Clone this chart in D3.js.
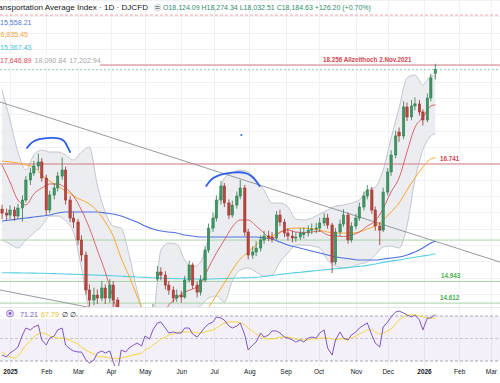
<!DOCTYPE html>
<html><head><meta charset="utf-8">
<script src="https://cdn.jsdelivr.net/npm/d3@7/dist/d3.min.js"></script>
<style>
html,body{margin:0;padding:0;background:#fff;}
svg{display:block;font-family:"Liberation Sans",Arial,sans-serif;}
</style></head><body>
<svg id="c" width="500" height="383"></svg>
<script>
// ---------------- DATA ----------------
// Bars: two per week (Thursday / Monday), Dec 26 2024 .. Jan 12 2026
const opens = [16050,15990,15960,16037,15945,16067,16190,16496,16603,16710, 16772,16527,16037,16266,16374,16557,16649,16190,15914,15853, 15578,15348,14812,14659,14735,14690,14843,14690,14888,14659, 13970,13587,13740,13893,13970,14046,14123,14276,14353,14980, 15088,15042,14888,14812,14690,14735,14705,14965,15195,14888, 14781,14965,15424,15761,15914,16190,16404,16144,15960,16113, 16251,16374,15700,15348,15394,15455,15578,15639,15623,15608, 15960,15853,15685,15639,15608,15623,15660,15685,15730,15746, 15761,15838,15914,15807,15240,15700,15822,15960,15578,15792, 15914,16083,16251,16343,16037,15792,15730,16312,16619,16879, 17230,17170,17614,17461,17629,17660,17537,17415,17751,18124.09];
const highs = [16120,16060,16110,16090,16130,16260,16560,16680,16790,16900, 16830,16580,16330,16450,16620,16840,16700,16250,16000,15900, 15650,15400,14900,14850,14820,14950,14900,14980,14950,14700, 14100,13900,14000,14080,14150,14220,14350,14450,14600,15180, 15160,15100,14950,14870,14820,14800,15030,15260,15230,14940, 15040,15480,15830,16000,16260,16480,16450,16200,16180,16320, 16500,16420,15750,15480,15560,15650,15720,15720,15700,16020, 16040,15900,15760,15720,15700,15760,15770,15800,15830,15840, 15920,15990,15980,15840,15760,15890,16050,16000,15850,15980, 16150,16320,16420,16390,16090,15850,16380,16680,16950,17250, 17300,17700,17680,17720,17760,17720,17580,17820,18120,18274.34];
const lows = [15900,15880,15900,15870,15900,15860,16150,16420,16560,16650, 16470,15960,15990,16200,16320,16500,16120,15850,15760,15500, 15250,14740,14560,14580,14600,14640,14600,14620,14500,13400, 13150,13450,13650,13800,13880,13950,14050,14200,14280,14950, 14960,14820,14740,14620,14630,14620,14680,14930,14830,14700, 14730,14930,15380,15700,15860,16120,16080,15900,15920,16060, 16200,15640,15280,15290,15330,15400,15520,15560,15540,15580, 15790,15620,15570,15540,15550,15580,15600,15630,15670,15680, 15700,15790,15750,15070,15200,15640,15780,15520,15540,15740, 15870,16030,16200,15980,15720,15500,15700,16260,16560,16830, 17080,17120,17400,17410,17560,17480,17330,17380,17700,18032.51];
const closes = [15990,15960,16037,15945,16067,16190,16496,16603,16710,16772, 16527,16037,16266,16374,16557,16649,16190,15914,15853,15578, 15348,14812,14659,14735,14690,14843,14690,14888,14659,13970, 13587,13740,13893,13970,14046,14123,14276,14353,14506,15088, 15042,14888,14812,14690,14735,14705,14965,15195,14888,14781, 14965,15424,15761,15914,16190,16404,16144,15960,16113,16251, 16374,15700,15348,15394,15455,15578,15639,15623,15608,15960, 15853,15685,15639,15608,15623,15685,15685,15730,15746,15761, 15838,15914,15807,15240,15700,15822,15960,15578,15792,15914, 16083,16251,16343,16037,15792,15730,16312,16619,16879,17170, 17170,17614,17461,17629,17660,17537,17415,17751,18058,18184.63];

// Weekly indicator readings (every Thursday bar + last bar)
const bbUpper = [17874,17415,16925,16649,16879,16955,16925,16925,16879,16802, 16925,17001,16419,16006,15792,15761,15348,14812,14429,14400, 15424,15532,15516,15271,15164,15241,15608,16037,16527,16603, 16649,16619,16496,16343,16144,16144,16083,15899,15884,15914, 15975,16037,16098,16113,16144,16190,16343,16389,16649,17139, 17598,18058,18104,17950,18088,18090.84];
const bbLower = [15578,15516,15455,15578,15685,15792,15945,15945,15868,15700, 15149,14521,14429,14169,13587,12791,12592,12822,13358,13750, 13281,13633,13863,14291,14490,14567,14690,14720,14628,14950, 15118,15149,15088,15026,15042,15241,15378,15501,15501,15486, 15455,15271,15180,15149,15164,15210,15241,15348,15470,15486, 15455,15792,16496,16955,17170,17202.94];
const bbBasis = [16726,16466,16190,16114,16282,16374,16435,16435,16374,16251, 16037,15761,15424,15088,14690,14276,13970,13817,13894,14075, 14353,14583,14690,14781,14827,14904,15149,15379,15578,15777, 15884,15884,15792,15685,15593,15693,15731,15700,15693,15700, 15715,15654,15639,15631,15654,15700,15792,15869,16060,16313, 16527,16925,17300,17453,17629,17646.89];
const maOrange = [16787,16772,16756,16726,16695,16572,16481,16404,16328,16251, 16190,16129,16021,15853,15639,15302,15026,14720,14429,14200, 14046,14000,14016,14077,14200,14353,14537,14735,14919,15118, 15287,15394,15501,15593,15639,15700,15746,15761,15761,15746, 15730,15700,15685,15685,15685,15700,15746,15792,15884,16006, 16144,16343,16527,16695,16818,16835.45];
const maBlue = [15868,15884,15899,15914,15929,15945,15960,15991,16006,16006, 16006,16006,16006,15991,15975,15945,15899,15853,15792,15746, 15715,15700,15685,15654,15639,15623,15623,15623,15623,15623, 15623,15623,15623,15608,15593,15547,15501,15470,15440,15409, 15378,15348,15317,15302,15287,15271,15271,15271,15287,15302, 15317,15348,15394,15455,15532,15558.21];
const maCyan = [15077,15076,15075,15073,15071,15068,15065,15061,15057,15053, 15049,15045,15041,15036,15030,15024,15018,15012,15006,15000, 14995,14990,14986,14983,14981,14980,14981,14984,14988,14993, 14997,15000,15008,15020,15035,15050,15065,15078,15090,15102, 15114,15126,15138,15150,15162,15175,15190,15210,15235,15255, 15272,15295,15315,15333,15352,15367.43];

// RSI (per bar) and its moving average
const rsi = [35.3,33.6,37.1,39.8,42.4,53.1,59.3,57.6,60.2,62.0, 48.7,44.2,50.4,52.2,57.6,59.3,44.2,40.7,38.9,38.0, 38.0,30.9,28.2,30.9,37.1,38.9,37.1,38.9,29.1,20.2, 39.8,38.0,41.6,44.2,46.0,43.3,52.2,49.6,57.6,63.8, 64.7,59.3,54.9,55.8,54.9,54.9,59.3,59.3,54.0,51.3, 54.9,60.2,62.9,64.7,69.1,68.2,66.4,61.1,59.3,61.1, 63.8,53.1,39.8,44.2,46.9,54.9,51.3,53.1,56.7,56.7, 54.9,51.3,50.4,48.7,46.9,48.7,46.9,50.4,51.3,50.4, 54.9,57.6,41.6,35.3,48.7,55.8,50.4,48.7,53.1,55.8, 59.3,62.0,63.8,53.1,46.0,42.4,60.2,64.7,69.1,73.6, 74.4,72.7,70.9,69.1,70.9,66.4,57.6,68.2,68.2,71.21];
const rsiMa = [38.0,35.3,33.6,32.7,34.4,39.8,44.2,47.8,51.3,54.0, 54.9,54.0,52.2,51.3,50.4,50.4,49.6,48.7,46.9,45.1, 42.4,39.8,38.0,36.2,34.4,33.6,33.6,32.7,32.7,31.8, 32.7,33.6,34.4,35.3,36.2,37.1,39.8,41.6,44.2,46.9, 49.6,51.3,53.1,54.0,54.9,55.8,55.8,55.8,55.8,54.9, 54.9,55.8,56.7,57.6,59.3,62.0,63.8,64.7,64.7,64.7, 63.8,62.0,59.3,56.7,54.0,52.2,50.4,49.6,49.6,50.4, 51.3,51.3,51.3,50.4,49.6,48.7,48.7,48.7,49.6,49.6, 50.4,50.4,50.4,49.6,48.7,49.6,49.6,48.7,50.4,52.2, 54.0,55.8,57.6,57.6,55.8,54.0,54.9,56.7,58.4,62.9, 66.4,69.1,70.9,70.9,70.9,70.0,69.1,68.2,68.2,67.79];

// Horizontal levels
const redLevels = [18256, 16741];
const greenLevels = [15577, 14943, 14612];
const levelLabels = [["18.256  Allzeithoch 2.Nov.2021", 18256, "2025-10-05", "#d0454f"],
                     ["16.741", 16741, "2026-01-16", "#d0454f"],
                     ["14.943", 14943, "2026-01-17", "#4caf50"],
                     ["14.612", 14612, "2026-01-16", "#4caf50"]];
// Trend lines (anchor points)
const trendUpper = [["2025-01-02", 17641], ["2026-01-02", 15613]];
const trendLower = [["2025-01-02", 14783], ["2025-03-04", 14577]];
// Hand-drawn arcs
const arc1 = [["2025-01-17",16986],["2025-01-20",17050],["2025-01-22",17085],["2025-01-28",17124],["2025-02-03",17139],["2025-02-09",17142],["2025-02-15",17133],["2025-02-19",17097],["2025-02-21",17030],["2025-02-24",16925]];
const arc2 = [["2025-06-24",16404],["2025-06-27",16481],["2025-06-30",16527],["2025-07-05",16572],["2025-07-11",16595],["2025-07-16",16610],["2025-07-23",16619],["2025-07-29",16603],["2025-08-02",16572],["2025-08-06",16510],["2025-08-08",16450],["2025-08-10",16404]];
const dotPoint = ["2025-07-25", 17185];

// Axis ticks
const tickDates = ["2025-01-02","2025-02-03","2025-03-03","2025-04-01","2025-05-01","2025-06-02","2025-07-01","2025-08-01","2025-09-02","2025-10-01","2025-11-03","2025-12-01","2026-01-02","2026-02-02","2026-03-02"];
const tickLabels = ["2025","Feb","Mar","Apr","May","Jun","Jul","Aug","Sep","Oct","Nov","Dec","2026","Feb","Mar"];

// Header / legend texts
const titleText = "Dow Jones Transportation Average Index · 1D · DJCFD";
const ohlcText = "O18,124.09 H18,274.34 L18,032.51 C18,184.63 +126.20 (+0.70%)";
const legendRows = [[["15,558.21","#5277e0"]],[["16,835.45","#f7a23b"]],[["15,367.43","#3fc3d9"]],[["17,646.89","#d9464f"],["18,090.84","#a3a6ad"],["17,202.94","#a3a6ad"]]];
const legendX = [0, -3.5, 0, 0];
const rsiLegend = [["71.21","#7e57c2"],["67.79","#e8c21f"],["∅ ∅","#131722"]];

// ---------------- CHART ----------------
const P = d3.utcParse("%Y-%m-%d");
const svg = d3.select("#c");
const W = 500, PANE_BOTTOM = 307.5, RSI_TOP = 307.5, RSI_BOTTOM = 366;

const barDates = [...d3.utcThursday.range(Date.UTC(2024,11,26), Date.UTC(2026,0,13)),
                  ...d3.utcMonday.range(Date.UTC(2024,11,26), Date.UTC(2026,0,13))].sort((a,b)=>a-b);
const bars = barDates.map((d,i)=>({d, o:opens[i], h:highs[i], l:lows[i], c:closes[i]}));
const weekDates = barDates.filter((d,i)=> i%2===0 || i===barDates.length-1);
const weekly = weekDates.map((d,i)=>({d, u:bbUpper[i], l:bbLower[i], b:bbBasis[i], or:maOrange[i], bl:maBlue[i], cy:maCyan[i]}));

const x = d3.scaleUtc().domain([P("2025-01-02"), P("2026-01-02")]).range([10, 424]);
const y = d3.scaleLinear().domain([16741, 18256]).range([164, 65]);
const yr = d3.scaleLinear().domain([30, 70]).range([361, 316]);

const defs = svg.append("defs");
defs.append("clipPath").attr("id","mainClip").append("rect").attr("x",0).attr("y",0).attr("width",W).attr("height",PANE_BOTTOM);
defs.append("clipPath").attr("id","rsiClip").append("rect").attr("x",0).attr("y",RSI_TOP).attr("width",W).attr("height",RSI_BOTTOM-RSI_TOP);

svg.append("rect").attr("width",W).attr("height",383).attr("fill","#fff");

// grid
const grid = svg.append("g");
d3.range(13000, 19500, 250).forEach(v=>{
  const yy = Math.round(y(v))+0.5;
  if (yy>0 && yy<PANE_BOTTOM) grid.append("line").attr("x1",0).attr("x2",W).attr("y1",yy).attr("y2",yy).attr("stroke","#f0f1f4").attr("stroke-width",1);
});
tickDates.forEach(t=>{
  const xx = Math.round(x(P(t)))+0.5;
  grid.append("line").attr("x1",xx).attr("x2",xx).attr("y1",0).attr("y2",RSI_BOTTOM).attr("stroke","#f0f1f4").attr("stroke-width",1);
});

const main = svg.append("g").attr("clip-path","url(#mainClip)");

// Bollinger band
const bandArea = d3.area().x(d=>x(d.d)).y0(d=>y(d.l)).y1(d=>y(d.u)).curve(d3.curveMonotoneX);
main.append("path").datum(weekly).attr("d",bandArea).attr("fill","#e9eaee").attr("fill-opacity",0.85);
const lineOf = key => d3.line().x(d=>x(d.d)).y(d=>y(d[key])).curve(d3.curveMonotoneX);
main.append("path").datum(weekly).attr("d",lineOf("u")).attr("fill","none").attr("stroke","#b7bac2").attr("stroke-width",0.8);
main.append("path").datum(weekly).attr("d",lineOf("l")).attr("fill","none").attr("stroke","#b7bac2").attr("stroke-width",0.8);

// horizontal levels
redLevels.forEach(v=>{
  main.append("line").attr("x1",0).attr("x2",W).attr("y1",y(v)).attr("y2",y(v)).attr("stroke","#d47a80").attr("stroke-width",1);
});
greenLevels.forEach(v=>{
  main.append("line").attr("x1",0).attr("x2",W).attr("y1",y(v)).attr("y2",y(v)).attr("stroke","#a6d4a8").attr("stroke-width",1);
});

// trend lines (extended across the pane)
function extend(pts){
  const x0=x(P(pts[0][0])), y0=y(pts[0][1]), x1=x(P(pts[1][0])), y1=y(pts[1][1]);
  const s=(y1-y0)/(x1-x0);
  return [[0, y0 - s*x0],[W, y0 + s*(W-x0)]];
}
[trendUpper, trendLower].forEach(t=>{
  const e = extend(t);
  main.append("line").attr("x1",e[0][0]).attr("y1",e[0][1]).attr("x2",e[1][0]).attr("y2",e[1][1]).attr("stroke","#8a8d94").attr("stroke-width",0.9);
});

// moving averages
main.append("path").datum(weekly).attr("d",lineOf("cy")).attr("fill","none").attr("stroke","#56cfe1").attr("stroke-width",1.1);
main.append("path").datum(weekly).attr("d",lineOf("bl")).attr("fill","none").attr("stroke","#4e6fe0").attr("stroke-width",1.1);
main.append("path").datum(weekly).attr("d",lineOf("or")).attr("fill","none").attr("stroke","#ffa630").attr("stroke-width",1);
main.append("path").datum(weekly).attr("d",lineOf("b")).attr("fill","none").attr("stroke","#d9565c").attr("stroke-width",0.9);

// candles
const cw = 2.4;
const cg = main.append("g");
bars.forEach(b=>{
  const up = b.c >= b.o;
  const col = up ? "#2f7a4c" : "#9b2f2b";
  const fill = up ? "#3f9563" : "#b5473f";
  const cx = x(b.d);
  cg.append("line").attr("x1",cx).attr("x2",cx).attr("y1",y(b.h)).attr("y2",y(b.l)).attr("stroke",col).attr("stroke-width",0.8);
  const top = y(Math.max(b.o,b.c)), bot = y(Math.min(b.o,b.c));
  cg.append("rect").attr("x",cx-cw/2).attr("y",top).attr("width",cw).attr("height",Math.max(0.8,bot-top)).attr("fill",fill).attr("stroke",col).attr("stroke-width",0.5);
});

// annotations
const arcLine = d3.line().x(d=>x(P(d[0]))).y(d=>y(d[1])).curve(d3.curveBasis);
[arc1, arc2].forEach(a=>{
  main.append("path").attr("d",arcLine(a)).attr("fill","none").attr("stroke","#2f5fe8").attr("stroke-width",1.8).attr("stroke-linecap","round");
});
main.append("circle").attr("cx",x(P(dotPoint[0]))).attr("cy",y(dotPoint[1])).attr("r",1).attr("fill","#2f5fe8");

// level labels
levelLabels.forEach(l=>{
  main.append("text").attr("x",x(P(l[2]))).attr("y",y(l[1])-3).attr("fill",l[3]).attr("font-size",6.3).attr("font-weight","bold").text(l[0]);
});

// price line and top dashed line
const last = bars[bars.length-1];
main.append("line").attr("x1",0).attr("x2",W).attr("y1",y(last.c)).attr("y2",y(last.c)).attr("stroke","#6fc3a8").attr("stroke-width",0.8).attr("stroke-dasharray","2,2");
main.append("line").attr("x1",0).attr("x2",W).attr("y1",y(19020)).attr("y2",y(19020)).attr("stroke","#f08a94").attr("stroke-width",0.8).attr("stroke-dasharray","3,2");

// header
svg.append("text").attr("x",148).attr("y",10).attr("text-anchor","end").attr("font-size",8.1).attr("fill","#131722").text(titleText);
const ic = svg.append("g").attr("transform","translate(157.5,7.5)");
ic.append("circle").attr("r",4).attr("fill","#e3e4e8");
ic.append("rect").attr("x",-2).attr("y",-1.3).attr("width",4).attr("height",0.8).attr("fill","#6a6d78");
ic.append("rect").attr("x",-2).attr("y",0.6).attr("width",4).attr("height",0.8).attr("fill","#6a6d78");
svg.append("text").attr("x",163).attr("y",10).attr("font-size",7).attr("fill","#2e8a6a").text(ohlcText);

// legend
const legY = [24.5, 37, 50, 63.3];
svg.append("rect").attr("x",0).attr("y",55).attr("width",100).attr("height",11).attr("fill","#fff");
legendRows.forEach((row,ri)=>{
  const t = svg.append("text").attr("x",legendX[ri]).attr("y",legY[ri]).attr("font-size",7.1);
  row.forEach((s,si)=>{ t.append("tspan").attr("fill",s[1]).attr("dx", si?3:0).text(s[0]); });
});

// ---------------- RSI PANE ----------------
svg.append("line").attr("x1",0).attr("x2",W).attr("y1",RSI_TOP).attr("y2",RSI_TOP).attr("stroke","#e6e7eb").attr("stroke-width",1);
const rg = svg.append("g").attr("clip-path","url(#rsiClip)");
rg.append("rect").attr("x",0).attr("width",W).attr("y",yr(70)).attr("height",yr(30)-yr(70)).attr("fill","#7e57c2").attr("fill-opacity",0.09);
[70,50,30].forEach(v=>{
  rg.append("line").attr("x1",0).attr("x2",W).attr("y1",yr(v)).attr("y2",yr(v)).attr("stroke", v===50?"#b9bbc2":"#9598a1").attr("stroke-width",0.8).attr("stroke-dasharray","3,2");
});
rg.append("path").datum(rsiMa).attr("d",d3.line().x((d,i)=>x(barDates[i])).y(d=>yr(d)).curve(d3.curveMonotoneX)).attr("fill","none").attr("stroke","#f5d63a").attr("stroke-width",1);
rg.append("path").datum(rsi).attr("d",d3.line().x((d,i)=>x(barDates[i])).y(d=>yr(d))).attr("fill","none").attr("stroke","#7e57c2").attr("stroke-width",1);

// RSI legend
svg.append("rect").attr("x",0).attr("y",308).attr("width",76).attr("height",11).attr("fill","#fff").attr("fill-opacity",0.9);
const ri = svg.append("g").attr("transform","translate(10,313.5)");
ri.append("circle").attr("r",3.4).attr("fill","#ece6f7").attr("stroke","#8e6bd0").attr("stroke-width",0.9);
ri.append("circle").attr("r",1.4).attr("fill","#7e57c2");
const rt = svg.append("text").attr("x",20).attr("y",316.5).attr("font-size",7.2);
rsiLegend.forEach((s,i)=>{ rt.append("tspan").attr("fill",s[1]).attr("dx", i?3:0).text(s[0]); });

// ---------------- X AXIS ----------------
const ax = svg.append("g").attr("transform",`translate(0,${RSI_BOTTOM})`)
  .call(d3.axisBottom(x).tickValues(tickDates.map(P)).tickFormat((d,i)=>tickLabels[i]).tickSize(0).tickPadding(3));
ax.select(".domain").remove();
ax.selectAll("text").attr("font-size",6.5).attr("fill","#131722").attr("font-family","Liberation Sans, Arial, sans-serif")
  .attr("font-weight",(d,i)=> /^\d{4}$/.test(tickLabels[i]) ? "bold" : "normal");
</script></body></html>
